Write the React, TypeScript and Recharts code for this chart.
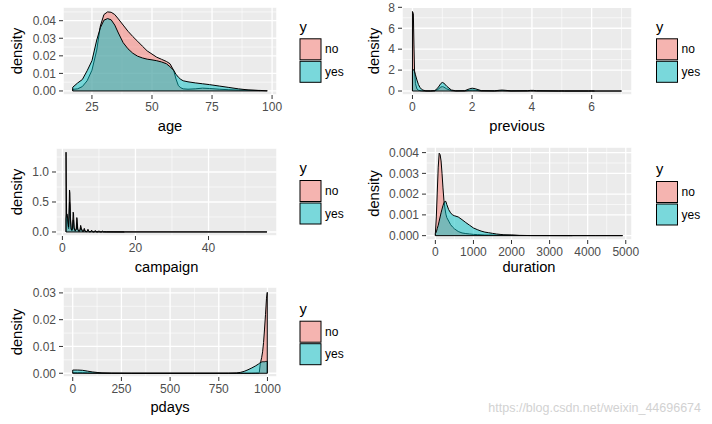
import { AreaChart, Area, XAxis, YAxis, CartesianGrid, ReferenceLine } from 'recharts';

// age
const ageX = [17, 17, 19, 21, 23, 25, 27, 28.5, 30, 31.5, 33, 34.5, 36, 38, 40, 42, 44, 46, 48, 50, 52, 54, 56, 57.5, 59, 60, 61, 62, 63, 65, 68, 71, 74, 78, 82, 86, 90, 95, 95, 98, 98];
const ageNo = [0, 0.0009, 0.0012, 0.0025, 0.0058, 0.0118, 0.0233, 0.037, 0.0435, 0.045, 0.0448, 0.0435, 0.041, 0.0375, 0.034, 0.031, 0.0283, 0.0255, 0.0228, 0.021, 0.0192, 0.018, 0.0168, 0.0155, 0.0118, 0.0068, 0.003, 0.0018, 0.0012, 0.001, 0.0012, 0.0016, 0.0014, 0.001, 0.0007, 0.0005, 0.0004, 0.0003, 0.0003, 0.0001, 0];
const ageYes = [0, 0.0021, 0.0045, 0.0065, 0.0115, 0.0172, 0.029, 0.036, 0.0403, 0.0412, 0.0405, 0.0375, 0.033, 0.0275, 0.024, 0.0215, 0.0198, 0.0188, 0.0181, 0.0177, 0.0172, 0.0165, 0.0155, 0.0138, 0.0118, 0.0095, 0.0078, 0.0066, 0.0058, 0.0052, 0.0046, 0.0041, 0.0036, 0.0028, 0.002, 0.0012, 0.0006, 0.0002, 0, null, null];

// previous
const prevX = [0, 0, 0.03, 0.05, 0.07, 0.1, 0.15, 0.2, 0.25, 0.3, 0.35, 0.45, 0.6, 0.75, 0.85, 0.95, 1, 1.05, 1.15, 1.3, 1.45, 1.75, 1.9, 2, 2.1, 2.3, 2.75, 2.9, 3, 3.1, 3.3, 3.85, 3.95, 4.05, 4.15, 4.9, 5, 5.1, 5.9, 6, 6.1, 7, 7];
const prevNo = [0, 7.6, 7.4, 4.4, 2.0, 0.7, 0.2, 0.08, 0.04, 0.02, 0.01, 0, 0, 0.02, 0.15, 0.38, 0.42, 0.38, 0.2, 0.04, 0.01, 0.01, 0.06, 0.09, 0.07, 0.01, 0.005, 0.02, 0.03, 0.02, 0.005, 0.01, 0.02, 0.02, 0.01, 0.002, 0.005, 0.002, 0.002, 0.004, 0.002, 0.001, 0];
const prevYes = [0, 2.1, 2.05, 2.0, 1.85, 1.55, 1.05, 0.62, 0.35, 0.18, 0.09, 0.02, 0.01, 0.04, 0.3, 0.72, 0.82, 0.76, 0.45, 0.1, 0.02, 0.03, 0.2, 0.27, 0.22, 0.04, 0.02, 0.07, 0.09, 0.07, 0.02, 0.03, 0.06, 0.06, 0.03, 0.005, 0.01, 0.005, 0.002, 0.006, 0, null, null];

// campaign
const campX = [1, 1, 1.05, 1.15, 1.3, 1.5, 1.7, 1.85, 1.95, 2.05, 2.2, 2.4, 2.6, 2.8, 2.95, 3.05, 3.2, 3.5, 3.8, 3.95, 4.05, 4.2, 4.5, 4.8, 5, 5.2, 5.5, 5.8, 6, 6.2, 6.5, 6.8, 7, 7.2, 7.5, 7.8, 8, 8.2, 8.5, 8.8, 9, 9.2, 9.5, 9.8, 10, 10.2, 10.5, 10.8, 11, 11.2, 12, 17, 56, 56];
const campNo = [0, 1.33, 0.9, 0.28, 0.25, 0.12, 0.05, 0.4, 0.7, 0.65, 0.25, 0.04, 0.02, 0.08, 0.33, 0.3, 0.08, 0.01, 0.06, 0.24, 0.2, 0.05, 0.01, 0.03, 0.11, 0.06, 0.01, 0.02, 0.06, 0.02, 0.005, 0.015, 0.045, 0.015, 0.004, 0.01, 0.03, 0.01, 0.003, 0.008, 0.025, 0.008, 0.002, 0.006, 0.02, 0.006, 0.002, 0.005, 0.015, 0.005, 0.003, 0.002, 0.001, 0];
const campYes = [0, 0.22, 0.25, 0.3, 0.3, 0.2, 0.08, 0.25, 0.5, 0.45, 0.2, 0.05, 0.03, 0.06, 0.2, 0.2, 0.06, 0.02, 0.04, 0.12, 0.12, 0.04, 0.01, 0.02, 0.07, 0.05, 0.01, 0.01, 0.04, 0.01, 0.005, 0.01, 0.025, 0.01, 0.003, 0.005, 0.015, 0.005, 0.002, 0.004, 0.01, 0.004, 0.001, 0.002, 0.005, 0.002, 0.001, 0.002, 0.004, 0.002, 0.001, 0, null, null];

// duration
const durX = [0, 0, 25, 50, 75, 100, 125, 150, 175, 200, 225, 250, 275, 300, 350, 400, 450, 500, 600, 700, 800, 900, 1000, 1100, 1200, 1300, 1400, 1500, 1600, 1700, 1800, 2000, 2200, 2500, 3000, 3600, 4200, 4918, 4918];
const durNo = [0, 0.0001, 0.0009, 0.0021, 0.0033, 0.00397, 0.0039, 0.0036, 0.003, 0.0023, 0.0017, 0.00133, 0.00105, 0.00087, 0.0007, 0.00053, 0.00042, 0.00033, 0.0002, 0.00013, 0.0001, 0.00008, 0.00006, 0.00005, 0.00004, 0.00003, 0.00003, 0.00003, 0.00002, 0.00002, 0.00002, 0.00002, 0.00001, 0.000005, 0.000003, 0.000002, 0.000001, 0.000001, 0];
const durYes = [0, 0.0001, 0.00018, 0.00035, 0.0005, 0.0007, 0.0009, 0.0011, 0.00128, 0.00145, 0.00158, 0.00165, 0.00165, 0.0015, 0.00125, 0.0011, 0.001, 0.00096, 0.0009, 0.00077, 0.00063, 0.0005, 0.00037, 0.00029, 0.00022, 0.00017, 0.00014, 0.00011, 0.00008, 0.00006, 0.00004, 0.00003, 0.00001, 0.000005, 0.000003, 0.000001, null, null, null];

// pdays
const pdX = [0, 0, 25, 50, 75, 100, 125, 150, 200, 300, 500, 700, 800, 840, 860, 880, 900, 920, 940, 955, 958, 963, 966, 970, 975, 980, 985, 990, 995, 999, 999];
const pdNo = [0, 0.0002, 0.0002, 0.0002, 0.00015, 0.0001, 0.00007, 0.00004, 0.00001, 0, 0, 0, 0, 0, 0, 0, 0, 0, 0.00005, 0.0001, 0.0003, 0.0035, 0.0045, 0.0058, 0.008, 0.0115, 0.0165, 0.022, 0.028, 0.0302, 0];
const pdYes = [0, 0.0012, 0.0012, 0.0011, 0.0008, 0.0005, 0.0003, 0.00012, 0.00003, 0, 0, 0, 0.00001, 0.0001, 0.0003, 0.0007, 0.0013, 0.002, 0.0028, 0.0035, 0.0037, 0.0039, 0.0041, 0.0042, 0.0043, 0.0043, 0.0043, 0.0044, 0.0044, 0.0044, 0];

const FONT = '"Liberation Sans", Arial, Helvetica, sans-serif';
const NO_FILL = '#F8766D';
const YES_FILL = '#00BFC4';

type Val = number | null;

interface PanelDef {
  name: string;
  left: number;
  top: number;
  height: number;
  plot: { left: number; right: number; top: number; bottom: number };
  xs: number[];
  no: Val[];
  yes: Val[];
  xDomain: [number, number];
  yDomain: [number, number];
  xTicks: number[];
  xMinor: number[];
  yTicks: number[];
  yMinor: number[];
  yDigits: number;
  titleX: number;
  titleY: number;
  densityX: number;
  densityY: number;
  legendX: number;
  legendY: number;
}

const panels: PanelDef[] = [
  {
    name: 'age', left: 0, top: 0, height: 140,
    plot: { left: 63, right: 277, top: 7, bottom: 95 },
    xs: ageX, no: ageNo, yes: ageYes,
    xDomain: [12.95, 102.05], yDomain: [-0.0023, 0.0478],
    xTicks: [25, 50, 75, 100], xMinor: [37.5, 62.5, 87.5],
    yTicks: [0, 0.01, 0.02, 0.03, 0.04], yMinor: [0.005, 0.015, 0.025, 0.035, 0.045],
    yDigits: 2,
    titleX: 170, titleY: 131, densityX: 22, densityY: 51, legendX: 299.5, legendY: 38.3,
  },
  {
    name: 'previous', left: 356, top: 0, height: 140,
    plot: { left: 46, right: 276, top: 7, bottom: 95 },
    xs: prevX, no: prevNo, yes: prevYes,
    xDomain: [-0.35, 7.35], yDomain: [-0.38, 8.03],
    xTicks: [0, 2, 4, 6], xMinor: [1, 3, 5, 7],
    yTicks: [0, 2, 4, 6, 8], yMinor: [1, 3, 5, 7],
    yDigits: 0,
    titleX: 517, titleY: 131, densityX: 378.5, densityY: 51, legendX: 656, legendY: 38.3,
  },
  {
    name: 'campaign', left: 0, top: 140, height: 140,
    plot: { left: 56, right: 277, top: 8, bottom: 96 },
    xs: campX, no: campNo, yes: campYes,
    xDomain: [-1.75, 58.75], yDomain: [-0.067, 1.4],
    xTicks: [0, 20, 40], xMinor: [10, 30, 50],
    yTicks: [0, 0.5, 1], yMinor: [0.25, 0.75, 1.25],
    yDigits: 1,
    titleX: 166.5, titleY: 271.5, densityX: 22, densityY: 192, legendX: 299.5, legendY: 180,
  },
  {
    name: 'duration', left: 356, top: 140, height: 140,
    plot: { left: 70, right: 276, top: 7, bottom: 100 },
    xs: durX, no: durNo, yes: durYes,
    xDomain: [-245.9, 5163.9], yDomain: [-0.00021, 0.00427],
    xTicks: [0, 1000, 2000, 3000, 4000, 5000], xMinor: [500, 1500, 2500, 3500, 4500],
    yTicks: [0, 0.001, 0.002, 0.003, 0.004], yMinor: [0.0005, 0.0015, 0.0025, 0.0035],
    yDigits: 3,
    titleX: 529, titleY: 271.5, densityX: 378.5, densityY: 193.5, legendX: 656, legendY: 181,
  },
  {
    name: 'pdays', left: 0, top: 280, height: 144,
    plot: { left: 63, right: 277, top: 7, bottom: 97 },
    xs: pdX, no: pdNo, yes: pdYes,
    xDomain: [-49.95, 1048.95], yDomain: [-0.0014, 0.0322],
    xTicks: [0, 250, 500, 750, 1000], xMinor: [125, 375, 625, 875],
    yTicks: [0, 0.01, 0.02, 0.03], yMinor: [0.005, 0.015, 0.025],
    yDigits: 2,
    titleX: 170, titleY: 411.5, densityX: 22, densityY: 332, legendX: 299.5, legendY: 320.7,
  },
];

const CELL_W = 356;
const X_AXIS_H = 22;

function DensityPanel({ p }: { p: PanelDef }) {
  const rows = p.xs.map((x, i) => ({ x, no: p.no[i], yes: p.yes[i] }));
  const x0 = p.xs[0];
  const x1 = p.xs[p.xs.length - 1];
  const tickStyle = { fill: '#4D4D4D', fontSize: 12, fontFamily: FONT };

  return (
    <div style={{ position: 'absolute', left: p.left, top: p.top }}>
      <AreaChart
        width={CELL_W}
        height={p.height}
        data={rows}
        margin={{ top: p.plot.top, right: CELL_W - p.plot.right, left: 0, bottom: p.height - p.plot.bottom - X_AXIS_H }}
      >
        <CartesianGrid fill="#EBEBEB" stroke="#FFFFFF" strokeWidth={1.3} />
        <CartesianGrid xAxisId="minor" yAxisId="minor" stroke="#FFFFFF" strokeWidth={0.6} />
        <XAxis
          dataKey="x"
          type="number"
          domain={p.xDomain}
          ticks={p.xTicks}
          interval={0}
          allowDataOverflow
          axisLine={false}
          tickLine={{ stroke: '#333333' }}
          tickSize={4}
          tickMargin={3}
          tick={tickStyle}
          height={X_AXIS_H}
        />
        <XAxis xAxisId="minor" dataKey="x" type="number" domain={p.xDomain} ticks={p.xMinor} allowDataOverflow hide />
        <YAxis
          type="number"
          domain={p.yDomain}
          ticks={p.yTicks}
          interval={0}
          allowDataOverflow
          axisLine={false}
          tickLine={{ stroke: '#333333' }}
          tickSize={4}
          tickMargin={3}
          tick={tickStyle}
          width={p.plot.left}
          tickFormatter={(v: number) => v.toFixed(p.yDigits)}
        />
        <YAxis yAxisId="minor" type="number" domain={p.yDomain} ticks={p.yMinor} allowDataOverflow hide />
        <Area
          type="linear"
          dataKey="no"
          fill={NO_FILL}
          fillOpacity={0.5}
          stroke="#000000"
          strokeWidth={1}
          isAnimationActive={false}
        />
        <Area
          type="linear"
          dataKey="yes"
          fill={YES_FILL}
          fillOpacity={0.5}
          stroke="#000000"
          strokeWidth={1}
          isAnimationActive={false}
        />
        <ReferenceLine segment={[{ x: x0, y: 0 }, { x: x1, y: 0 }]} stroke="#000000" strokeWidth={1} />
      </AreaChart>
    </div>
  );
}

function Overlay() {
  return (
    <svg
      width={712}
      height={424}
      style={{ position: 'absolute', left: 0, top: 0, pointerEvents: 'none', fontFamily: FONT }}
    >
      {panels.map((p) => (
        <g key={p.name}>
          <text x={p.titleX} y={p.titleY} textAnchor="middle" fontSize={14.7} fill="#000">
            {p.name}
          </text>
          <text
            transform={`translate(${p.densityX},${p.densityY}) rotate(-90)`}
            textAnchor="middle"
            fontSize={14.7}
            fill="#000"
          >
            density
          </text>
          <text x={p.legendX} y={p.legendY - 6.8} fontSize={14.7} fill="#000">
            y
          </text>
          <rect x={p.legendX + 0.5} y={p.legendY + 0.5} width={21} height={21} fill="#F5B4B0" stroke="#000" strokeWidth={1} />
          <rect x={p.legendX + 0.5} y={p.legendY + 23} width={21} height={21} fill="#79D8DB" stroke="#000" strokeWidth={1} />
          <text x={p.legendX + 25.5} y={p.legendY + 15} fontSize={12} fill="#000">
            no
          </text>
          <text x={p.legendX + 25.5} y={p.legendY + 37.7} fontSize={12} fill="#000">
            yes
          </text>
        </g>
      ))}
      <text x={701} y={412} textAnchor="end" fontSize={12.5} fill="#D2D2D2">
        https://blog.csdn.net/weixin_44696674
      </text>
    </svg>
  );
}

export default function App() {
  return (
    <div
      style={{
        position: 'absolute',
        left: 0,
        top: 0,
        width: 712,
        height: 424,
        background: '#FFFFFF',
        fontFamily: FONT,
        overflow: 'hidden',
      }}
    >
      {panels.map((p) => (
        <DensityPanel key={p.name} p={p} />
      ))}
      <Overlay />
    </div>
  );
}
